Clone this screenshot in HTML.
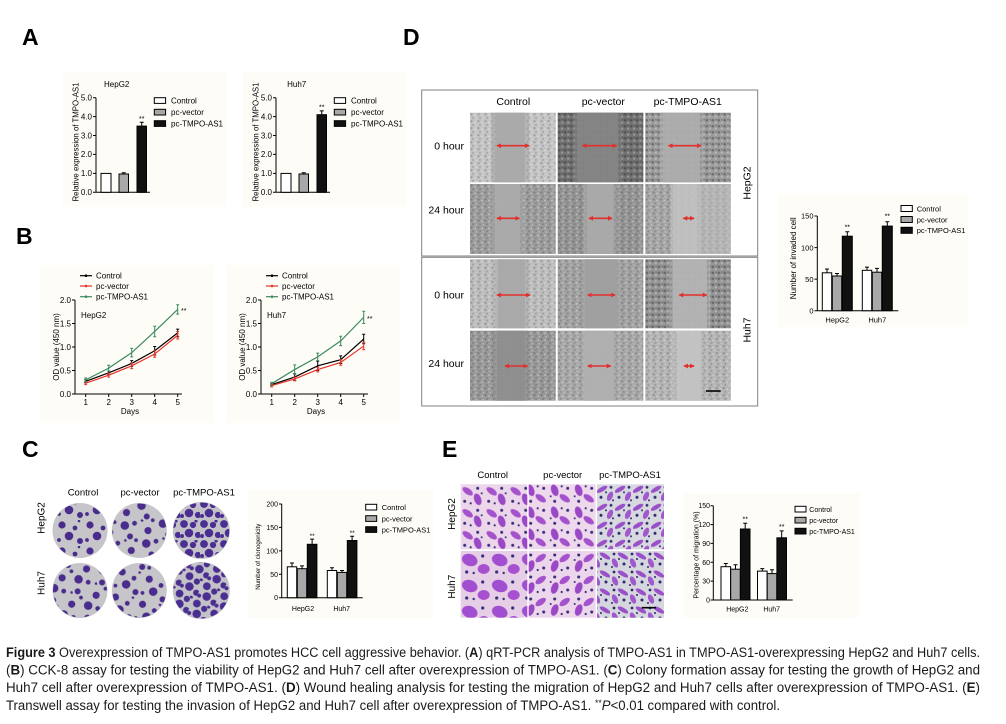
<!DOCTYPE html>
<html><head><meta charset="utf-8"><style>
html,body{margin:0;padding:0;background:#fff;}
svg{display:block;font-family:"Liberation Sans",Arial,sans-serif;}
</style></head><body>
<svg width="1006" height="724" viewBox="0 0 1006 724" xmlns="http://www.w3.org/2000/svg">
<defs>
<pattern id="spk" width="7" height="7" patternUnits="userSpaceOnUse">
<circle cx="1.5" cy="1.5" r="1.1" fill="#000" fill-opacity=".2"/>
<circle cx="5" cy="2.5" r=".9" fill="#fff" fill-opacity=".4"/>
<circle cx="3" cy="5.2" r="1" fill="#000" fill-opacity=".16"/>
<circle cx="6.2" cy="6" r=".7" fill="#fff" fill-opacity=".35"/>
</pattern>
<pattern id="spk2" width="6" height="6" patternUnits="userSpaceOnUse">
<circle cx="1.5" cy="1.5" r="1.3" fill="#111" fill-opacity=".35"/>
<circle cx="4.5" cy="4" r="1.1" fill="#fff" fill-opacity=".3"/>
<circle cx="4.8" cy="1" r=".7" fill="#000" fill-opacity=".25"/>
</pattern>
<pattern id="cs" width="28" height="26" patternUnits="userSpaceOnUse">
<g fill="#4a2c8c">
<circle cx="6" cy="5" r="3.6"/><circle cx="19" cy="8" r="2.4"/><circle cx="13" cy="16" r="4.3"/>
<circle cx="3" cy="20" r="1.9"/><circle cx="24" cy="21" r="3"/><circle cx="23" cy="1" r="1.3"/></g>
</pattern>
<pattern id="cd" width="20" height="20" patternUnits="userSpaceOnUse">
<g fill="#4b2e92">
<circle cx="4" cy="4" r="3.9"/><circle cx="13" cy="5" r="3.1"/><circle cx="9" cy="13" r="4.3"/>
<circle cx="18" cy="15" r="3.1"/><circle cx="2" cy="16" r="2"/><circle cx="16" cy="1" r="1.6"/></g>
</pattern>
<pattern id="tw" width="24" height="22" patternUnits="userSpaceOnUse">
<ellipse cx="7" cy="7" rx="6" ry="3" transform="rotate(35 7 7)" fill="#a452cc"/>
<ellipse cx="17" cy="15" rx="3.5" ry="6" transform="rotate(-20 17 15)" fill="#9a48c6"/>
<circle cx="17" cy="4" r="1.5" fill="#3a2c7c"/><circle cx="4" cy="17" r="1.5" fill="#3a2c7c"/>
<circle cx="10" cy="19" r="1.1" fill="#3a2c7c"/><circle cx="21" cy="9" r="1" fill="#3a2c7c"/>
</pattern>
<pattern id="tw2" width="18" height="18" patternUnits="userSpaceOnUse">
<ellipse cx="5" cy="5" rx="6" ry="2.2" transform="rotate(-30 5 5)" fill="#9a50c8"/>
<ellipse cx="13" cy="12" rx="2.6" ry="5" transform="rotate(25 13 12)" fill="#a058cc"/>
<circle cx="14" cy="3" r="1.4" fill="#2e2a70"/><circle cx="4" cy="13" r="1.5" fill="#2e2a70"/>
<circle cx="9" cy="8" r="1" fill="#2e2a70"/><circle cx="16" cy="16" r="1" fill="#2e2a70"/>
</pattern>
<pattern id="tw3" width="30" height="26" patternUnits="userSpaceOnUse">
<ellipse cx="9" cy="9" rx="8" ry="6" transform="rotate(20 9 9)" fill="#a14fd0"/>
<ellipse cx="23" cy="18" rx="6" ry="5" fill="#a650d0"/>
<circle cx="22" cy="5" r="1.6" fill="#3a2c7c"/><circle cx="6" cy="21" r="1.6" fill="#3a2c7c"/>
<circle cx="13" cy="22" r="1.2" fill="#3a2c7c"/>
</pattern>
<marker id="ah" viewBox="0 0 6 6" refX="5" refY="3" markerWidth="3" markerHeight="3" orient="auto-start-reverse"><path d="M0,0 L6,3 L0,6 z" fill="#e2302c"/></marker>
</defs>

<!-- panel letters -->
<g font-size="23" font-weight="bold" fill="#000">
<text x="22" y="45">A</text><text x="403" y="45">D</text>
<text x="16" y="244">B</text><text x="22" y="457">C</text><text x="442" y="457">E</text>
</g>

<!-- ===== Panel A ===== -->
<g id="a1">
<rect x="63" y="72" width="164" height="135" fill="#fdfcf7"/>
<text x="116.7" y="87" font-size="8" text-anchor="middle">HepG2</text>
<path d="M96,97.7V192.3H150M93,97.7H96M93,116.6H96M93,135.5H96M93,154.4H96M93,173.4H96M93,192.3H96" stroke="#000" fill="none"/>
<g font-size="8" text-anchor="end">
<text x="92" y="100.5">5.0</text><text x="92" y="119.4">4.0</text><text x="92" y="138.3">3.0</text>
<text x="92" y="157.2">2.0</text><text x="92" y="176.2">1.0</text><text x="92" y="195.1">0.0</text></g>
<text transform="translate(78.7,142) rotate(-90)" text-anchor="middle" font-size="7.8" textLength="119" lengthAdjust="spacingAndGlyphs">Relative expression of TMPO-AS1</text>
<rect x="101" y="173.4" width="10" height="18.9" fill="#fff" stroke="#000"/>
<rect x="119" y="174" width="9.5" height="18.3" fill="#a8a8a8" stroke="#000"/>
<path d="M123.75,174V172.8M121.75,172.8H125.75" stroke="#000"/>
<rect x="137" y="126.1" width="9.5" height="66.2" fill="#111" stroke="#000"/>
<path d="M141.75,126.1V122.3M139.75,122.3H143.75" stroke="#000"/>
<text x="141.75" y="121" font-size="7" text-anchor="middle">**</text>
<rect x="154.3" y="97.7" width="11.3" height="5.7" fill="#fff" stroke="#000"/>
<rect x="154.3" y="109.3" width="11.3" height="5.7" fill="#a8a8a8" stroke="#000"/>
<rect x="154.3" y="120.7" width="11.3" height="5.7" fill="#111" stroke="#000"/>
<g font-size="8"><text x="171" y="103.5">Control</text><text x="171" y="115">pc-vector</text><text x="171" y="126.3">pc-TMPO-AS1</text></g>
</g>
<g transform="translate(180,0)">
<rect x="63" y="72" width="164" height="135" fill="#fdfcf7"/>
<text x="116.7" y="87" font-size="8" text-anchor="middle">Huh7</text>
<path d="M96,97.7V192.3H150M93,97.7H96M93,116.6H96M93,135.5H96M93,154.4H96M93,173.4H96M93,192.3H96" stroke="#000" fill="none"/>
<g font-size="8" text-anchor="end">
<text x="92" y="100.5">5.0</text><text x="92" y="119.4">4.0</text><text x="92" y="138.3">3.0</text>
<text x="92" y="157.2">2.0</text><text x="92" y="176.2">1.0</text><text x="92" y="195.1">0.0</text></g>
<text transform="translate(78.7,142) rotate(-90)" text-anchor="middle" font-size="7.8" textLength="119" lengthAdjust="spacingAndGlyphs">Relative expression of TMPO-AS1</text>
<rect x="101" y="173.4" width="10" height="18.9" fill="#fff" stroke="#000"/>
<rect x="119" y="174" width="9.5" height="18.3" fill="#a8a8a8" stroke="#000"/>
<path d="M123.75,174V172.8M121.75,172.8H125.75" stroke="#000"/>
<rect x="137" y="114.7" width="9.5" height="77.6" fill="#111" stroke="#000"/>
<path d="M141.75,114.7V110.9M139.75,110.9H143.75" stroke="#000"/>
<text x="141.75" y="109.5" font-size="7" text-anchor="middle">**</text>
<rect x="154.3" y="97.7" width="11.3" height="5.7" fill="#fff" stroke="#000"/>
<rect x="154.3" y="109.3" width="11.3" height="5.7" fill="#a8a8a8" stroke="#000"/>
<rect x="154.3" y="120.7" width="11.3" height="5.7" fill="#111" stroke="#000"/>
<g font-size="8"><text x="171" y="103.5">Control</text><text x="171" y="115">pc-vector</text><text x="171" y="126.3">pc-TMPO-AS1</text></g>
</g>

<!-- ===== Panel B ===== -->
<g>
<rect x="40" y="265" width="173" height="158" fill="#fdfcf7"/>
<path d="M80,275.7H92" stroke="#000" stroke-width="1.2"/><circle cx="86" cy="275.7" r="1.3" fill="#000"/>
<path d="M80,286H92" stroke="#e8322c" stroke-width="1.2"/><circle cx="86" cy="286" r="1.3" fill="#e8322c"/>
<path d="M80,296.7H92" stroke="#3d8a5e" stroke-width="1.2"/><circle cx="86" cy="296.7" r="1.3" fill="#3d8a5e"/>
<g font-size="8"><text x="96" y="278.7">Control</text><text x="96" y="289">pc-vector</text><text x="96" y="299.7">pc-TMPO-AS1</text></g>
<path d="M75,300V394H182M72,300H75M72,323.5H75M72,347H75M72,370.5H75M72,394H75M85.7,394V397M108.7,394V397M131.7,394V397M154.7,394V397M177.7,394V397" stroke="#000" fill="none"/>
<g font-size="8" text-anchor="end"><text x="71" y="302.8">2.0</text><text x="71" y="326.3">1.5</text><text x="71" y="349.8">1.0</text><text x="71" y="373.3">0.5</text><text x="71" y="396.8">0.0</text></g>
<g font-size="8" text-anchor="middle"><text x="85.7" y="405">1</text><text x="108.7" y="405">2</text><text x="131.7" y="405">3</text><text x="154.7" y="405">4</text><text x="177.7" y="405">5</text><text x="130" y="414">Days</text></g>
<text transform="translate(58.8,347) rotate(-90)" text-anchor="middle" font-size="8">OD value (450 nm)</text>
<text x="81" y="318" font-size="8">HepG2</text>
<polyline points="85.7,381.3 108.7,372.85 131.7,363.45 154.7,350.76 177.7,332.9" fill="none" stroke="#000" stroke-width="1.2"/>
<path d="M85.7,379.9V382.7M84.2,379.9H87.2M84.2,382.7H87.2M108.7,371V374.7M107.2,371H110.2M107.2,374.7H110.2M131.7,360.6V366.3M130.2,360.6H133.2M130.2,366.3H133.2M154.7,346.5V355M153.2,346.5H156.2M153.2,355H156.2M177.7,329.1V336.7M176.2,329.1H179.2M176.2,336.7H179.2" stroke="#000" fill="none"/>
<polyline points="85.7,383.19 108.7,375.2 131.7,365.8 154.7,354.05 177.7,335.25" fill="none" stroke="#e8322c" stroke-width="1.2"/>
<path d="M85.7,381.8V384.6M84.2,381.8H87.2M84.2,384.6H87.2M108.7,373.3V377.1M107.2,373.3H110.2M107.2,377.1H110.2M131.7,363V368.6M130.2,363H133.2M130.2,368.6H133.2M154.7,350.8V357.3M153.2,350.8H156.2M153.2,357.3H156.2M177.7,331.5V339M176.2,331.5H179.2M176.2,339H179.2" stroke="#e8322c" fill="none"/>
<polyline points="85.7,379.9 108.7,368.15 131.7,352.64 154.7,331.49 177.7,309.4" fill="none" stroke="#3d8a5e" stroke-width="1.2"/>
<path d="M85.7,378V381.8M84.2,378H87.2M84.2,381.8H87.2M108.7,365.3V371M107.2,365.3H110.2M107.2,371H110.2M131.7,348.4V356.9M130.2,348.4H133.2M130.2,356.9H133.2M154.7,326.3V336.7M153.2,326.3H156.2M153.2,336.7H156.2M177.7,304.7V314.1M176.2,304.7H179.2M176.2,314.1H179.2" stroke="#3d8a5e" fill="none"/>
<text x="181" y="313" font-size="7">**</text>
</g>
<g transform="translate(186,0)">
<rect x="41" y="265" width="173" height="158" fill="#fdfcf7"/>
<path d="M80,275.7H92" stroke="#000" stroke-width="1.2"/><circle cx="86" cy="275.7" r="1.3" fill="#000"/>
<path d="M80,286H92" stroke="#e8322c" stroke-width="1.2"/><circle cx="86" cy="286" r="1.3" fill="#e8322c"/>
<path d="M80,296.7H92" stroke="#3d8a5e" stroke-width="1.2"/><circle cx="86" cy="296.7" r="1.3" fill="#3d8a5e"/>
<g font-size="8"><text x="96" y="278.7">Control</text><text x="96" y="289">pc-vector</text><text x="96" y="299.7">pc-TMPO-AS1</text></g>
<path d="M75,300V394H182M72,300H75M72,323.5H75M72,347H75M72,370.5H75M72,394H75M85.7,394V397M108.7,394V397M131.7,394V397M154.7,394V397M177.7,394V397" stroke="#000" fill="none"/>
<g font-size="8" text-anchor="end"><text x="71" y="302.8">2.0</text><text x="71" y="326.3">1.5</text><text x="71" y="349.8">1.0</text><text x="71" y="373.3">0.5</text><text x="71" y="396.8">0.0</text></g>
<g font-size="8" text-anchor="middle"><text x="85.7" y="405">1</text><text x="108.7" y="405">2</text><text x="131.7" y="405">3</text><text x="154.7" y="405">4</text><text x="177.7" y="405">5</text><text x="130" y="414">Days</text></g>
<text transform="translate(58.8,347) rotate(-90)" text-anchor="middle" font-size="8">OD value (450 nm)</text>
<text x="81" y="318" font-size="8">Huh7</text>
<polyline points="85.7,384.6 108.7,377.08 131.7,365.8 154.7,359.69 177.7,339.01" fill="none" stroke="#000" stroke-width="1.2"/>
<path d="M85.7,383.7V385.5M84.2,383.7H87.2M84.2,385.5H87.2M108.7,373.8V380.4M107.2,373.8H110.2M107.2,380.4H110.2M131.7,361.1V370.5M130.2,361.1H133.2M130.2,370.5H133.2M154.7,355.9V363.5M153.2,355.9H156.2M153.2,363.5H156.2M177.7,334.3V343.7M176.2,334.3H179.2M176.2,343.7H179.2" stroke="#000" fill="none"/>
<polyline points="85.7,385.54 108.7,378.96 131.7,369.56 154.7,362.51 177.7,346.06" fill="none" stroke="#e8322c" stroke-width="1.2"/>
<path d="M85.7,384.1V387M84.2,384.1H87.2M84.2,387H87.2M108.7,377.1V380.8M107.2,377.1H110.2M107.2,380.8H110.2M131.7,367.2V371.9M130.2,367.2H133.2M130.2,371.9H133.2M154.7,359.7V365.3M153.2,359.7H156.2M153.2,365.3H156.2M177.7,342.3V349.8M176.2,342.3H179.2M176.2,349.8H179.2" stroke="#e8322c" fill="none"/>
<polyline points="85.7,383.66 108.7,369.56 131.7,356.87 154.7,340.89 177.7,317.39" fill="none" stroke="#3d8a5e" stroke-width="1.2"/>
<path d="M85.7,382.3V385.1M84.2,382.3H87.2M84.2,385.1H87.2M108.7,364.9V374.3M107.2,364.9H110.2M107.2,374.3H110.2M131.7,353.1V360.6M130.2,353.1H133.2M130.2,360.6H133.2M154.7,336.2V345.6M153.2,336.2H156.2M153.2,345.6H156.2M177.7,311.3V323.5M176.2,311.3H179.2M176.2,323.5H179.2" stroke="#3d8a5e" fill="none"/>
<text x="181" y="321" font-size="7">**</text>
</g>

<!-- ===== Panel C ===== -->
<g font-size="9.5" text-anchor="middle">
<text x="83" y="495.5">Control</text><text x="140" y="495.5">pc-vector</text><text x="204" y="495.5">pc-TMPO-AS1</text>
</g>
<text transform="translate(44.5,518) rotate(-90)" text-anchor="middle" font-size="10">HepG2</text>
<text transform="translate(44.5,583) rotate(-90)" text-anchor="middle" font-size="10">Huh7</text>
<g>
<circle cx="80" cy="530.5" r="27.5" fill="#c6c5c9"/><circle cx="80" cy="530.5" r="27" fill="url(#cs)"/>
<circle cx="139.3" cy="530.5" r="27.5" fill="#c6c5c9"/><circle cx="139.3" cy="530.5" r="27" fill="url(#cs)" transform="rotate(40 139.3 530.5)"/>
<circle cx="201.3" cy="530.5" r="28.5" fill="#c3c2c6"/><circle cx="201.3" cy="530.5" r="28" fill="url(#cd)"/>
<circle cx="80" cy="590.5" r="27.5" fill="#c6c5c9"/><circle cx="80" cy="590.5" r="27" fill="url(#cs)" transform="rotate(70 80 590.5)"/>
<circle cx="139.3" cy="590.5" r="27.5" fill="#c6c5c9"/><circle cx="139.3" cy="590.5" r="27" fill="url(#cs)" transform="rotate(15 139.3 590.5)"/>
<circle cx="201.3" cy="590.5" r="28.5" fill="#c3c2c6"/><circle cx="201.3" cy="590.5" r="28" fill="url(#cd)" transform="rotate(30 201.3 590.5)"/>
</g>
<g>
<rect x="248" y="490" width="185" height="128" fill="#fdfcf7"/>
<path d="M281.7,504V597.7H362.7M279,504H281.7M279,527.4H281.7M279,550.85H281.7M279,574.3H281.7M279,597.7H281.7" stroke="#000" fill="none"/>
<g font-size="7" text-anchor="end"><text x="278" y="506.5">200</text><text x="278" y="529.9">150</text><text x="278" y="553.3">100</text><text x="278" y="576.8">50</text><text x="278" y="600.2">0</text></g>
<text transform="translate(260,556.7) rotate(-90)" text-anchor="middle" font-size="6.8" textLength="66" lengthAdjust="spacingAndGlyphs">Number of clonogenicity</text>
<rect x="287.3" y="566.8" width="9.4" height="30.9" fill="#fff" stroke="#000"/>
<rect x="297.3" y="568.7" width="9.4" height="29" fill="#a8a8a8" stroke="#000"/>
<rect x="307.3" y="544.3" width="9.6" height="53.4" fill="#111" stroke="#000"/>
<rect x="327.3" y="570.5" width="9.4" height="27.2" fill="#fff" stroke="#000"/>
<rect x="337.3" y="572.4" width="9.4" height="25.3" fill="#a8a8a8" stroke="#000"/>
<rect x="347.3" y="540.5" width="9.6" height="57.2" fill="#111" stroke="#000"/>
<path d="M292,566.8V563M290,563H294M302,568.7V565.9M300,565.9H304M312.1,544.3V539.1M310.1,539.1H314.1M332,570.5V567.7M330,567.7H334M342,572.4V570.5M340,570.5H344M352.1,540.5V536.3M350.1,536.3H354.1" stroke="#000" fill="none"/>
<g font-size="6.5" text-anchor="middle"><text x="312.1" y="538">**</text><text x="352.1" y="535">**</text></g>
<g font-size="7" text-anchor="middle"><text x="303" y="611">HepG2</text><text x="341.7" y="611">Huh7</text></g>
<rect x="365.7" y="504.3" width="11" height="5.7" fill="#fff" stroke="#000"/>
<rect x="365.7" y="515.7" width="11" height="5.7" fill="#a8a8a8" stroke="#000"/>
<rect x="365.7" y="526.7" width="11" height="5.7" fill="#111" stroke="#000"/>
<g font-size="7.5"><text x="381.7" y="510">Control</text><text x="381.7" y="521.3">pc-vector</text><text x="381.7" y="532.3">pc-TMPO-AS1</text></g>
</g>

<!-- ===== Panel D ===== -->
<rect x="421.7" y="90" width="336" height="166" fill="none" stroke="#808080"/>
<rect x="421.7" y="257.3" width="336" height="148.7" fill="none" stroke="#808080"/>
<g font-size="10.5" text-anchor="middle">
<text x="513.3" y="105">Control</text><text x="603.3" y="105">pc-vector</text><text x="687.7" y="105">pc-TMPO-AS1</text>
</g>
<g font-size="10.5" text-anchor="end">
<text x="464" y="149.5">0 hour</text><text x="464" y="213.5">24 hour</text>
<text x="464" y="298.5">0 hour</text><text x="464" y="366.8">24 hour</text>
</g>
<text transform="translate(750.7,183) rotate(-90)" text-anchor="middle" font-size="10.5">HepG2</text>
<text transform="translate(750.7,330) rotate(-90)" text-anchor="middle" font-size="10.5">Huh7</text>

<g transform="translate(470,112.7)"><rect width="85.7" height="69.6" fill="#c4c4c4"/><rect width="85.7" height="69.6" fill="url(#spk)"/><rect x="21" width="38" height="69.6" fill="#a6a6a6" opacity=".5"/><rect x="25" width="30" height="69.6" fill="#a8a8a8" opacity=".9"/></g>
<g transform="translate(557.7,112.7)"><rect width="85.6" height="69.6" fill="#727272"/><rect width="85.6" height="69.6" fill="url(#spk2)"/><rect x="16" width="48" height="69.6" fill="#838383" opacity=".5"/><rect x="19" width="41.6" height="69.6" fill="#858585" opacity=".9"/></g>
<g transform="translate(645.3,112.7)"><rect width="85.4" height="69.6" fill="#9c9c9c"/><rect width="85.4" height="69.6" fill="url(#spk2)"/><rect x="14" width="44" height="69.6" fill="#adadad" opacity=".5"/><rect x="17.7" width="37" height="69.6" fill="#adadad" opacity=".9"/></g>

<g transform="translate(470,184)"><rect width="85.7" height="70" fill="#9d9d9d"/><rect width="85.7" height="70" fill="url(#spk)"/><rect x="22" width="31" height="70" fill="#ababab" opacity=".5"/><rect x="25" width="25" height="70" fill="#ababab" opacity=".9"/></g>
<g transform="translate(557.7,184)"><rect width="85.6" height="70" fill="#959595"/><rect width="85.6" height="70" fill="url(#spk)"/><rect x="26" width="33" height="70" fill="#aaaaaa" opacity=".5"/><rect x="29" width="26.6" height="70" fill="#aaaaaa" opacity=".9"/></g>
<g transform="translate(645.3,184)"><rect width="85.4" height="70" fill="#a6a6a6"/><rect width="85.4" height="70" fill="url(#spk)"/><rect x="50" width="35.4" height="70" fill="#c4c4c4" opacity=".5"/><rect x="25" width="30" height="70" fill="#c0c0c0" opacity=".5"/><rect x="27.7" width="24" height="70" fill="#c2c2c2" opacity=".8"/></g>

<g transform="translate(470,259.3)"><rect width="85.7" height="69" fill="#bdbdbd"/><rect width="85.7" height="69" fill="url(#spk)"/><rect x="25" width="33" height="69" fill="#a8a8a8" opacity=".5"/><rect x="28" width="27" height="69" fill="#a8a8a8" opacity=".9"/></g>
<g transform="translate(557.7,259.3)"><rect width="85.6" height="69" fill="#a2a2a2"/><rect width="85.6" height="69" fill="url(#spk)"/><rect x="24" width="38" height="69" fill="#a0a0a0" opacity=".5"/><rect x="27.3" width="32" height="69" fill="#a0a0a0" opacity=".9"/></g>
<g transform="translate(645.3,259.3)"><rect width="85.4" height="69" fill="#949494"/><rect width="85.4" height="69" fill="url(#spk2)"/><rect x="24" width="41" height="69" fill="#b4b4b4" opacity=".5"/><rect x="27.7" width="34" height="69" fill="#b4b4b4" opacity=".9"/></g>

<g transform="translate(470,330.7)"><rect width="85.7" height="70" fill="#999999"/><rect width="85.7" height="70" fill="url(#spk)"/><rect x="24" width="34" height="70" fill="#8d8d8d" opacity=".5"/><rect x="27" width="28" height="70" fill="#8f8f8f" opacity=".9"/></g>
<g transform="translate(557.7,330.7)"><rect width="85.6" height="70" fill="#a8a8a8"/><rect width="85.6" height="70" fill="url(#spk)"/><rect x="24" width="34" height="70" fill="#b0b0b0" opacity=".5"/><rect x="27.3" width="28" height="70" fill="#b0b0b0" opacity=".9"/></g>
<g transform="translate(645.3,330.7)"><rect width="85.4" height="70" fill="#b5b5b5"/><rect width="85.4" height="70" fill="url(#spk)"/><rect x="28" width="30" height="70" fill="#c3c3c3" opacity=".5"/><rect x="31.7" width="23" height="70" fill="#c3c3c3" opacity=".9"/></g>

<g stroke="#e2302c" stroke-width="1.6" marker-start="url(#ah)" marker-end="url(#ah)">
<line x1="497" y1="145.7" x2="529" y2="145.7"/><line x1="582.5" y1="145.7" x2="616.5" y2="145.7"/><line x1="668.5" y1="145.7" x2="701" y2="145.7"/>
<line x1="497" y1="218.3" x2="519.3" y2="218.3"/><line x1="589" y1="218.3" x2="612" y2="218.3"/><line x1="683.3" y1="218.3" x2="694" y2="218.3"/>
<line x1="497" y1="295" x2="530" y2="295"/><line x1="587.7" y1="295" x2="615" y2="295"/><line x1="679.3" y1="295" x2="706.7" y2="295"/>
<line x1="505" y1="366" x2="527.3" y2="366"/><line x1="587.7" y1="366" x2="610.7" y2="366"/><line x1="684" y1="366" x2="694" y2="366"/>
</g>
<path d="M706,391H720.7" stroke="#000" stroke-width="1.6"/>

<!-- D bar chart -->
<g>
<rect x="778" y="195" width="190" height="132" fill="#fdfcf7"/>
<path d="M817.3,216V310.7H898.3M814.5,216H817.3M814.5,247.6H817.3M814.5,279.1H817.3M814.5,310.7H817.3" stroke="#000" fill="none"/>
<g font-size="7.5" text-anchor="end"><text x="813.5" y="218.7">150</text><text x="813.5" y="250.3">100</text><text x="813.5" y="281.8">50</text><text x="813.5" y="313.4">0</text></g>
<text transform="translate(796,258.3) rotate(-90)" text-anchor="middle" font-size="8">Number of invaded cell</text>
<rect x="822.3" y="272.8" width="9.4" height="37.9" fill="#fff" stroke="#000"/>
<rect x="832.3" y="276" width="9.4" height="34.7" fill="#a8a8a8" stroke="#000"/>
<rect x="842.3" y="236.2" width="10" height="74.5" fill="#111" stroke="#000"/>
<rect x="862.3" y="270.3" width="9.4" height="40.4" fill="#fff" stroke="#000"/>
<rect x="872.3" y="272.2" width="9.4" height="38.5" fill="#a8a8a8" stroke="#000"/>
<rect x="882.3" y="226.1" width="10" height="84.6" fill="#111" stroke="#000"/>
<path d="M827,272.8V269M825,269H829M837,276V273.5M835,273.5H839M847.3,236.2V231.8M845.3,231.8H849.3M867,270.3V267.1M865,267.1H869M877,272.2V268.4M875,268.4H879M887.3,226.1V221.7M885.3,221.7H889.3" stroke="#000" fill="none"/>
<g font-size="7" text-anchor="middle"><text x="847.3" y="229.5">**</text><text x="887.3" y="218.5">**</text></g>
<g font-size="7.5" text-anchor="middle"><text x="837.3" y="322.5">HepG2</text><text x="877.3" y="322.5">Huh7</text></g>
<rect x="901" y="205.5" width="11.3" height="6" fill="#fff" stroke="#000"/>
<rect x="901" y="216.5" width="11.3" height="6" fill="#a8a8a8" stroke="#000"/>
<rect x="901" y="227.3" width="11.3" height="6" fill="#111" stroke="#000"/>
<g font-size="7.5"><text x="916.7" y="211.3">Control</text><text x="916.7" y="222.3">pc-vector</text><text x="916.7" y="233">pc-TMPO-AS1</text></g>
</g>

<!-- ===== Panel E ===== -->
<g font-size="9.5" text-anchor="middle">
<text x="492.7" y="478">Control</text><text x="562.7" y="478">pc-vector</text><text x="630" y="478">pc-TMPO-AS1</text>
</g>
<text transform="translate(455.2,514) rotate(-90)" text-anchor="middle" font-size="10">HepG2</text>
<text transform="translate(455.2,586.7) rotate(-90)" text-anchor="middle" font-size="10">Huh7</text>
<g transform="translate(460.7,484.3)"><rect width="66.6" height="65" fill="#ecd6ea"/><rect width="66.6" height="65" fill="url(#tw)"/></g>
<g transform="translate(528.7,484.3)"><rect width="67" height="65" fill="#eed9ec"/><rect width="67" height="65" fill="url(#tw)" transform="translate(67,65) rotate(180)"/></g>
<g transform="translate(597,484.3)"><rect width="67" height="65" fill="#d8d8e0"/><rect width="67" height="65" fill="url(#tw2)"/></g>
<g transform="translate(460.7,551)"><rect width="66.6" height="66.7" fill="#e6cfe6"/><rect width="66.6" height="66.7" fill="url(#tw3)"/></g>
<g transform="translate(528.7,551)"><rect width="67" height="66.7" fill="#ecd6eb"/><rect width="67" height="66.7" fill="url(#tw)" transform="translate(67,0) scale(-1,1)"/></g>
<g transform="translate(597,551)"><rect width="67" height="66.7" fill="#d6d6de"/><rect width="67" height="66.7" fill="url(#tw2)" transform="translate(67,0) scale(-1,1)"/></g>
<path d="M641.7,607.7H656" stroke="#000" stroke-width="1.6"/>

<!-- E bar chart -->
<g>
<rect x="683.3" y="493.3" width="176.7" height="124.4" fill="#fdfcf7"/>
<path d="M713.3,505.7V600H792.7M710.5,505.7H713.3M710.5,524.6H713.3M710.5,543.4H713.3M710.5,562.3H713.3M710.5,581.1H713.3M710.5,600H713.3" stroke="#000" fill="none"/>
<g font-size="7" text-anchor="end"><text x="710" y="508.2">150</text><text x="710" y="527.1">120</text><text x="710" y="545.9">90</text><text x="710" y="564.8">60</text><text x="710" y="583.6">30</text><text x="710" y="602.5">0</text></g>
<text transform="translate(698.3,555) rotate(-90)" text-anchor="middle" font-size="7">Percentage of migration (%)</text>
<rect x="721" y="566.7" width="9.6" height="33.3" fill="#fff" stroke="#000"/>
<rect x="730.7" y="569.2" width="9.6" height="30.8" fill="#a8a8a8" stroke="#000"/>
<rect x="740.4" y="529" width="9.6" height="71" fill="#111" stroke="#000"/>
<rect x="757.5" y="571.1" width="9.6" height="28.9" fill="#fff" stroke="#000"/>
<rect x="767.2" y="573.6" width="9.6" height="26.4" fill="#a8a8a8" stroke="#000"/>
<rect x="776.9" y="537.8" width="9.6" height="62.2" fill="#111" stroke="#000"/>
<path d="M725.8,566.7V563.5M723.8,563.5H727.8M735.5,569.2V564.8M733.5,564.8H737.5M745.2,529V523.3M743.2,523.3H747.2M762.3,571.1V568.6M760.3,568.6H764.3M772,573.6V569.8M770,569.8H774M781.7,537.8V530.9M779.7,530.9H783.7" stroke="#000" fill="none"/>
<g font-size="7" text-anchor="middle"><text x="745.2" y="521.5">**</text><text x="781.7" y="529">**</text></g>
<g font-size="7" text-anchor="middle"><text x="737.3" y="611.5">HepG2</text><text x="771.7" y="611.5">Huh7</text></g>
<rect x="795" y="506.3" width="11" height="5.7" fill="#fff" stroke="#000"/>
<rect x="795" y="517.3" width="11" height="5.7" fill="#a8a8a8" stroke="#000"/>
<rect x="795" y="528.3" width="11" height="5.7" fill="#111" stroke="#000"/>
<g font-size="7"><text x="809.3" y="511.8">Control</text><text x="809.3" y="522.8">pc-vector</text><text x="809.3" y="533.8">pc-TMPO-AS1</text></g>
</g>

<!-- ===== Caption ===== -->
<g font-size="13.5" fill="#1a1a1a">
<text x="6" y="657" textLength="974" lengthAdjust="spacingAndGlyphs"><tspan font-weight="bold">Figure 3</tspan> Overexpression of TMPO-AS1 promotes HCC cell aggressive behavior. (<tspan font-weight="bold">A</tspan>) qRT-PCR analysis of TMPO-AS1 in TMPO-AS1-overexpressing HepG2 and Huh7 cells.</text>
<text x="6" y="674.6" textLength="974" lengthAdjust="spacingAndGlyphs">(<tspan font-weight="bold">B</tspan>) CCK-8 assay for testing the viability of HepG2 and Huh7 cell after overexpression of TMPO-AS1. (<tspan font-weight="bold">C</tspan>) Colony formation assay for testing the growth of HepG2 and</text>
<text x="6" y="692.2" textLength="974" lengthAdjust="spacingAndGlyphs">Huh7 cell after overexpression of TMPO-AS1. (<tspan font-weight="bold">D</tspan>) Wound healing analysis for testing the migration of HepG2 and Huh7 cells after overexpression of TMPO-AS1. (<tspan font-weight="bold">E</tspan>)</text>
<text x="6" y="709.8" textLength="774" lengthAdjust="spacingAndGlyphs">Transwell assay for testing the invasion of HepG2 and Huh7 cell after overexpression of TMPO-AS1. <tspan font-size="9" dy="-4">**</tspan><tspan font-style="italic" dy="4">P</tspan>&lt;0.01 compared with control.</text>
</g>
</svg>
</body></html>
